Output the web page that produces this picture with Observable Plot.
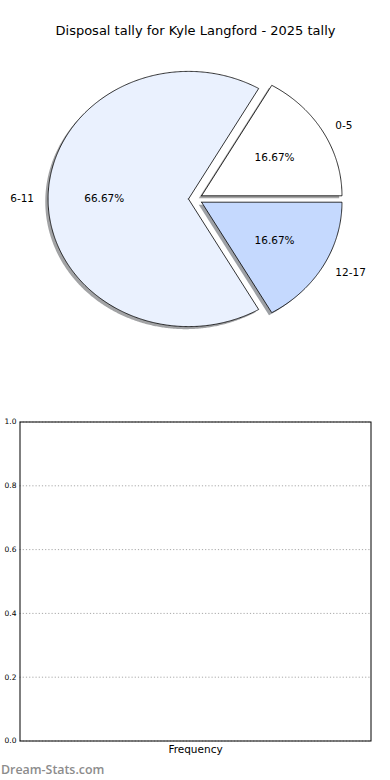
<!DOCTYPE html>
<html><head><meta charset="utf-8">
<script src="https://cdn.jsdelivr.net/npm/d3@7"></script>
<script src="https://cdn.jsdelivr.net/npm/@observablehq/plot@0.6"></script>
<style>
body{margin:0;background:#fff;}
#chart{width:390px;height:780px;overflow:hidden;}
#chart svg{display:block;}
</style></head><body><div id="chart"></div>
<script>
const title = "Disposal tally for Kyle Langford - 2025 tally";
const categories = ["0-5", "6-11", "12-17"];
const counts = [1, 4, 1];
const sliceColors = ["#ffffff", "#eaf1fe", "#c5d9fe"];
const yTicks = [0, 0.2, 0.4, 0.6, 0.8, 1.0];
const xLabel = "Frequency";
const watermark = "Dream-Stats.com";

const EXPLODE = 0.05, SHADOW = 0.02;
const total = d3.sum(counts);
let acc = 0;
const slices = categories.map((c, i) => {
  const a0 = acc / total * 360; acc += counts[i]; const a1 = acc / total * 360;
  const mid = (a0 + a1) / 2 * Math.PI / 180;
  return {cat: c, a0, a1, mid, sx: EXPLODE * Math.cos(mid), sy: EXPLODE * Math.sin(mid),
          pct: counts[i] / total * 100, color: sliceColors[i]};
});
function outline(s, ox = 0, oy = 0) {
  const cx = s.sx + ox, cy = s.sy + oy;
  const pts = [{x: cx, y: cy}];
  const n = Math.max(4, Math.ceil((s.a1 - s.a0) * 2));
  for (let k = 0; k <= n; k++) {
    const a = (s.a0 + (s.a1 - s.a0) * k / n) * Math.PI / 180;
    pts.push({x: cx + Math.cos(a), y: cy + Math.sin(a)});
  }
  pts.push({x: cx, y: cy});
  return pts;
}
function shadowColor(c) {
  const r = d3.rgb(c);
  return d3.rgb(r.r * 0.3, r.g * 0.3, r.b * 0.3).formatHex();
}
const labels = slices.map(s => {
  const x = s.sx + 1.1 * Math.cos(s.mid), y = s.sy + 1.1 * Math.sin(s.mid);
  return {x, y, text: s.cat, anchor: x > 0 ? "start" : "end"};
});
const pcts = slices.map(s => ({
  x: s.sx + 0.6 * Math.cos(s.mid), y: s.sy + 0.6 * Math.sin(s.mid), text: s.pct.toFixed(2) + "%"
}));

const font = "DejaVu Sans, sans-serif";

const pie = Plot.plot({
  width: 390, height: 390,
  marginLeft: 19.5, marginRight: 19.5, marginTop: 39, marginBottom: 32,
  x: {domain: [-1.25, 1.25], axis: null},
  y: {domain: [-1.25, 1.25], axis: null},
  style: {fontFamily: font, fontSize: "10.5px", background: "white", color: "#000"},
  marks: [
    ...slices.map(s => Plot.line(outline(s, -SHADOW, -SHADOW), {x: "x", y: "y", fill: shadowColor(s.color), fillOpacity: 0.5, stroke: "none"})),
    ...slices.map(s => Plot.line(outline(s), {x: "x", y: "y", fill: s.color, stroke: "#000", strokeWidth: 0.8, strokeLinejoin: "miter"})),
    Plot.text(labels.filter(d => d.anchor === "start"), {x: "x", y: "y", text: "text", textAnchor: "start", fill: "#000"}),
    Plot.text(labels.filter(d => d.anchor === "end"), {x: "x", y: "y", text: "text", textAnchor: "end", fill: "#000"}),
    Plot.text(pcts, {x: "x", y: "y", text: "text", fill: "#000"}),
    Plot.text([title], {frameAnchor: "top", lineAnchor: "middle", dy: -9, fontSize: 13, fill: "#000"})
  ]
});

const bar = Plot.plot({
  width: 390, height: 390,
  marginLeft: 19.5, marginRight: 19.5, marginTop: 31.5, marginBottom: 39.5,
  x: {domain: [0, 1], axis: null},
  y: {domain: [0, 1]},
  style: {fontFamily: font, fontSize: "7.5px", background: "white", color: "#000"},
  marks: [
    Plot.gridY(yTicks, {stroke: "#a8a8a8", strokeOpacity: 1, strokeDasharray: "1.2,2", strokeWidth: 1}),
    Plot.axisY(yTicks, {tickFormat: d3.format(".1f"), tickSize: 0, tickPadding: 3.5, fontSize: 7.5, label: null, fill: "#000"}),
    Plot.frame({stroke: "#000", strokeWidth: 1}),
    Plot.text([xLabel], {frameAnchor: "bottom", lineAnchor: "middle", dy: 9, fontSize: 10.5, fill: "#000"}),
    Plot.text([watermark], {frameAnchor: "bottom-left", lineAnchor: "middle", textAnchor: "start", dx: -19, dy: 29.5, fontSize: 12.4, fontWeight: 600, fontFamily: "Open Sans, sans-serif", fill: "#8c8c8c"})
  ]
});

document.getElementById("chart").append(pie, bar);
</script>
</body></html>
